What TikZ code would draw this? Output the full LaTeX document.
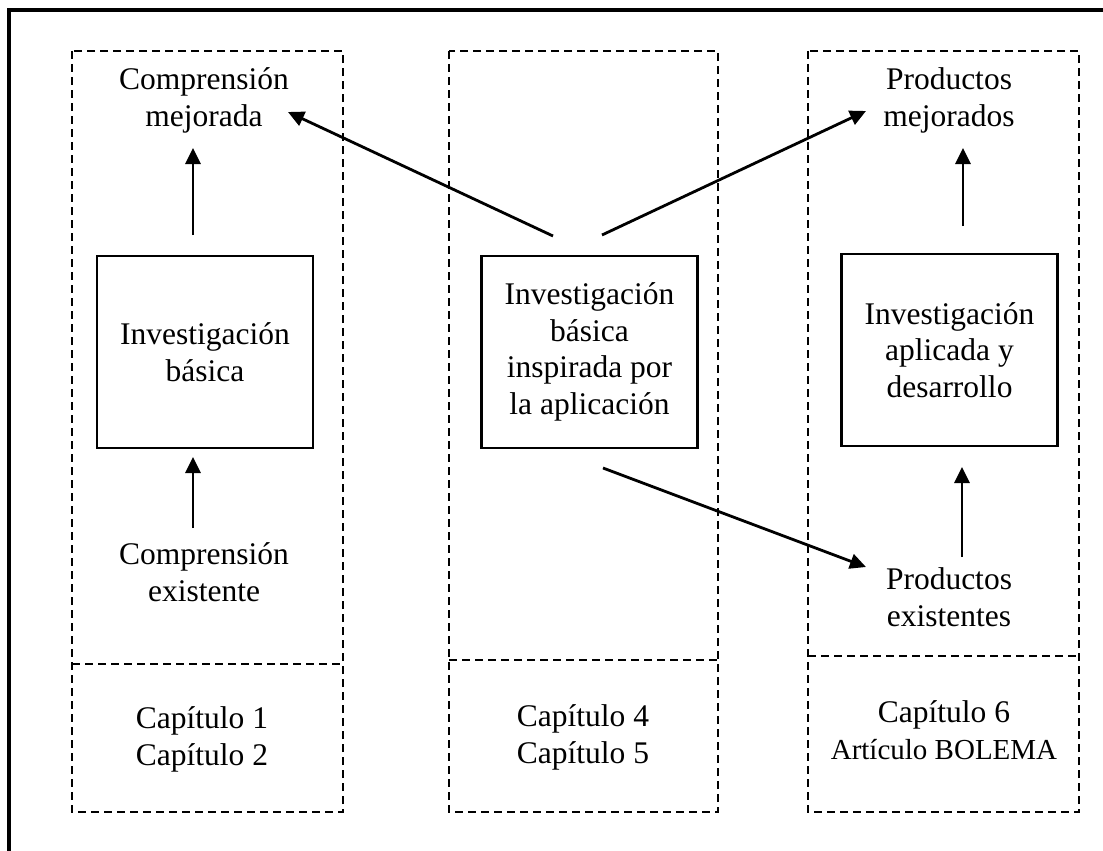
\documentclass[tikz,border=0pt]{standalone}
\usepackage{fontspec}
\setmainfont{Liberation Serif}
\usetikzlibrary{arrows.meta}
\begin{document}
\begin{tikzpicture}[x=1pt,y=-1pt,
  lbl/.style={align=center,inner sep=0pt,font=\fontsize{31.5}{36.5}\selectfont},
  colbox/.style={draw,line width=2.1pt,dash pattern=on 8pt off 5pt},
  solidbox/.style={draw,line width=2.6pt,minimum width=216pt,minimum height=192pt},
  arr/.style={line width=2.8pt,-{Triangle[length=16pt,width=15pt]}},
  frame/.style={line width=3.2pt}
  ]
\useasboundingbox (0,0) rectangle (1103,851);

% outer frame, running past the page on the right and at the bottom
\begin{scope}
  \clip (0,0) rectangle (1103,851);
  \draw[frame] (9,900) -- (9,10) -- (1150,10);
\end{scope}

% three dashed columns, each split into a diagram part and a chapter part
\draw[colbox] (72,51) rectangle (343,812);
\draw[colbox] (72,664) -- (343,664);
\draw[colbox] (449,51) rectangle (718,812);
\draw[colbox] (449,660) -- (718,660);
\draw[colbox] (808,51) rectangle (1079,812);
\draw[colbox] (808,656) -- (1079,656);

% research boxes
\node[solidbox,lbl] (basic) at (205,352) {Investigación\\básica};
\node[solidbox,lbl] (inspired) at (589.5,352) {Investigación\\básica\\inspirada por\\la aplicación};
\node[solidbox,lbl] (applied) at (949.5,350) {Investigación\\aplicada y\\desarrollo};

% understanding and products (anchored at the baseline of the last line)
\node[lbl,anchor=base] (undimp) at (204,126) {Comprensión\\mejorada};
\node[lbl,anchor=base] (undex) at (204,601) {Comprensión\\existente};
\node[lbl,anchor=base] (prodimp) at (949,126) {Productos\\mejorados};
\node[lbl,anchor=base] (prodex) at (949,626) {Productos\\existentes};

% chapter references
\node[lbl,anchor=base] (ch12) at (202,765) {Capítulo 1\\Capítulo 2};
\node[lbl,anchor=base] (ch45) at (583,763) {Capítulo 4\\Capítulo 5};
\node[lbl,anchor=base] (ch6) at (944,759) {Capítulo 6\\{\fontsize{29}{36}\selectfont Artículo BOLEMA}};

% arrow end points
\coordinate (a1s) at (193,528);
\coordinate (a1e) at (193,457);
\coordinate (a2s) at (193,235);
\coordinate (a2e) at (193,148);
\coordinate (a3s) at (962,557);
\coordinate (a3e) at (962,467);
\coordinate (a4s) at (963,226);
\coordinate (a4e) at (963,148);
\coordinate (d1s) at (553,236);
\coordinate (d1e) at (288,112);
\coordinate (d2s) at (602,235);
\coordinate (d2e) at (866,111);
\coordinate (d3s) at (603,468);
\coordinate (d3e) at (866,567);

\draw[arr] (a1s) -- (a1e);
\draw[arr] (a2s) -- (a2e);
\draw[arr] (a3s) -- (a3e);
\draw[arr] (a4s) -- (a4e);
\draw[arr] (d1s) -- (d1e);
\draw[arr] (d2s) -- (d2e);
\draw[arr] (d3s) -- (d3e);
\end{tikzpicture}
\end{document}
